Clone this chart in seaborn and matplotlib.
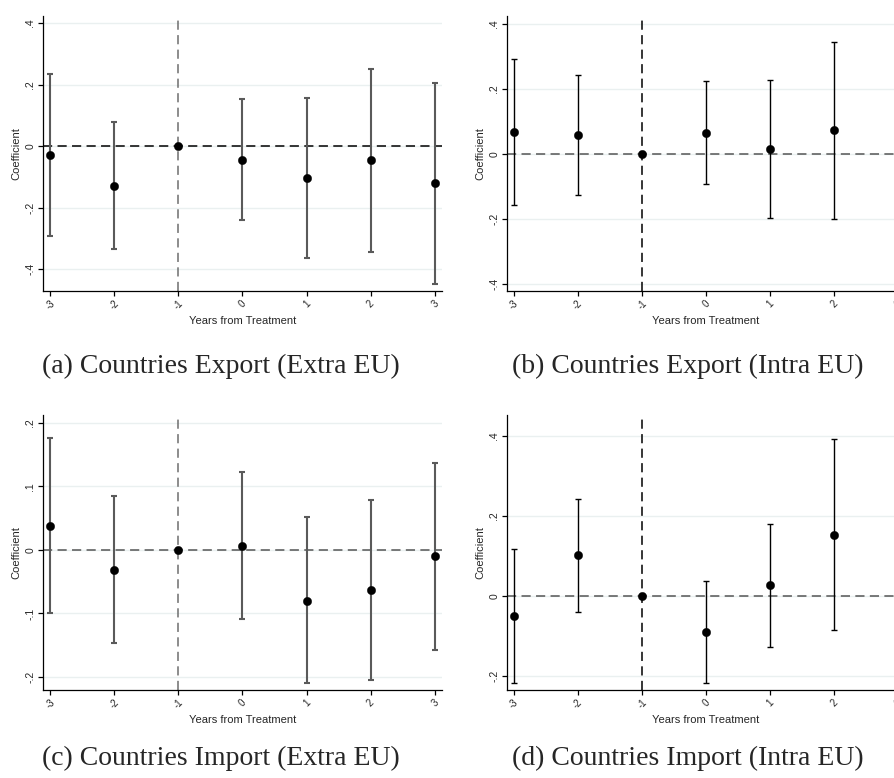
import numpy as np
import pandas as pd
import matplotlib
matplotlib.use("Agg")
import matplotlib.pyplot as plt
import seaborn as sns

# Event-study estimates: coefficient with 95% confidence bounds by year relative to treatment
years = [-3, -2, -1, 0, 1, 2, 3]

exp_extra_coef = [-0.029, -0.129, 0.0, -0.046, -0.105, -0.047, -0.121]
exp_extra_lo = [-0.293, -0.336, 0.0, -0.242, -0.365, -0.344, -0.449]
exp_extra_hi = [0.234, 0.079, 0.0, 0.152, 0.155, 0.251, 0.206]

exp_intra_coef = [0.068, 0.058, 0.0, 0.066, 0.015, 0.074]
exp_intra_lo = [-0.157, -0.125, 0.0, -0.093, -0.197, -0.200]
exp_intra_hi = [0.292, 0.244, 0.0, 0.225, 0.227, 0.345]

imp_extra_coef = [0.038, -0.031, 0.0, 0.007, -0.080, -0.063, -0.010]
imp_extra_lo = [-0.099, -0.146, 0.0, -0.109, -0.210, -0.204, -0.157]
imp_extra_hi = [0.177, 0.085, 0.0, 0.123, 0.052, 0.078, 0.137]

imp_intra_coef = [-0.049, 0.102, 0.0, -0.091, 0.028, 0.153]
imp_intra_lo = [-0.217, -0.039, 0.0, -0.218, -0.127, -0.086]
imp_intra_hi = [0.118, 0.243, 0.0, 0.038, 0.180, 0.392]

x_tick_labels = ["-3", "-2", "-1", "0", "1", "2", "3"]
captions = ["(a) Countries Export (Extra EU)", "(b) Countries Export (Intra EU)",
            "(c) Countries Import (Extra EU)", "(d) Countries Import (Intra EU)"]

sns.set_style("white")
plt.rcParams["font.family"] = ["Liberation Sans", "DejaVu Sans"]

W, H = 894, 778
fig = plt.figure(figsize=(W / 100, H / 100), dpi=100)
fig.patch.set_facecolor("white")


def stata_fmt(v):
    if abs(v) < 1e-9:
        return "0"
    s = f"{v:.1f}"
    return s.replace("0.", ".")


def panel(box, coef, lo, hi, ylim, yticks, bar_color, vline_color, hline_color, bar_lw):
    left, top, right, bottom = box
    ax = fig.add_axes([left / W, 1 - bottom / H, (right - left) / W, (bottom - top) / H])
    n = len(coef)
    df = pd.DataFrame({"year": years[:n], "coef": coef, "lo": lo, "hi": hi})
    df["span"] = df["hi"] - df["lo"]

    for t in yticks:
        ax.axhline(t, color="#eaf0f0", lw=1.0, zorder=0)
    ax.axhline(0, color=hline_color, lw=1.1, ls=(0, (6, 3.5)), zorder=1)
    ax.axvline(-1, color=vline_color, lw=1.1, ls=(0, (6, 3.5)), zorder=1, clip_on=False)

    ci = df[df["span"] > 0]
    ax.errorbar(ci["year"], ci["coef"], yerr=[ci["coef"] - ci["lo"], ci["hi"] - ci["coef"]],
                fmt="none", ecolor=bar_color, elinewidth=bar_lw, capsize=2.3,
                capthick=bar_lw, zorder=2)
    sns.scatterplot(data=df, x="year", y="coef", ax=ax, color="black", s=36,
                    edgecolor="black", linewidth=0.3, zorder=4, legend=False)

    ax.set_xlim(-3.109, 3.109)
    ax.set_ylim(*ylim)
    ax.set_xticks(years)
    ax.set_xticklabels(x_tick_labels, rotation=45, ha="center", va="top", fontsize=7)
    ax.set_yticks(yticks)
    ax.set_yticklabels([stata_fmt(t) for t in yticks], rotation=90, va="center", fontsize=7.5)
    ax.tick_params(axis="both", which="major", direction="out", length=3.5, width=0.9,
                   color="black", bottom=True, left=True, pad=2)
    for s in ["top", "right"]:
        ax.spines[s].set_visible(False)
    for s in ["left", "bottom"]:
        ax.spines[s].set_color("black")
        ax.spines[s].set_linewidth(0.9)
    ax.set_xlabel("Years from Treatment", fontsize=8, labelpad=3)
    ax.set_ylabel("Coefficient", fontsize=8, labelpad=3)
    ax.grid(False)
    return ax


GRAY = "#5a5a5a"
panel((43, 16, 442, 291), exp_extra_coef, exp_extra_lo, exp_extra_hi,
      (-0.4715, 0.4228), [-0.4, -0.2, 0, 0.2, 0.4], GRAY, "#6e6e6e", "black", 1.5)
panel((507, 16, 905, 291), exp_intra_coef, exp_intra_lo, exp_intra_hi,
      (-0.4215, 0.4246), [-0.4, -0.2, 0, 0.2, 0.4], "black", "black", "#555555", 1.0)
panel((43, 415, 442, 690), imp_extra_coef, imp_extra_lo, imp_extra_hi,
      (-0.2205, 0.2126), [-0.2, -0.1, 0, 0.1, 0.2], GRAY, "#6e6e6e", "#555555", 1.5)
panel((507, 415, 905, 690), imp_intra_coef, imp_intra_lo, imp_intra_hi,
      (-0.235, 0.4525), [-0.2, 0, 0.2, 0.4], "black", "black", "#555555", 1.0)

cap_font = dict(family=["Liberation Serif", "DejaVu Serif"], fontsize=20, ha="center", va="center")
fig.text(221 / W, 1 - 366 / H, captions[0], **cap_font)
fig.text(688 / W, 1 - 366 / H, captions[1], **cap_font)
fig.text(221 / W, 1 - 758 / H, captions[2], **cap_font)
fig.text(688 / W, 1 - 758 / H, captions[3], **cap_font)

fig.savefig("out.png", dpi=100, facecolor="white")
